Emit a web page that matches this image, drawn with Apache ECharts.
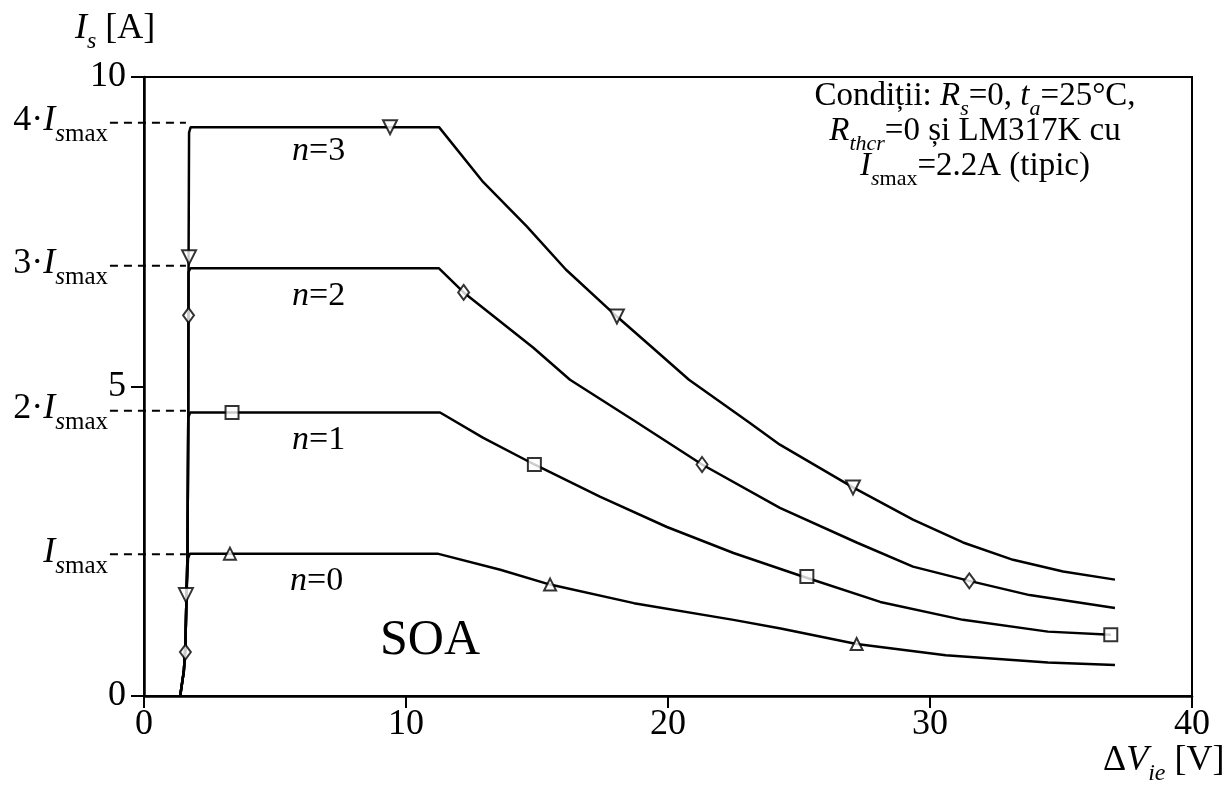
<!DOCTYPE html>
<html>
<head>
<meta charset="utf-8">
<script src="https://cdn.jsdelivr.net/npm/echarts@6/dist/echarts.min.js"></script>
<style>
  html, body { margin: 0; padding: 0; background: #fff; }
  #chart { width: 1232px; height: 791px; }
</style>
</head>
<body>
<div id="chart"></div>
<script>
// curves: [ΔVie, Is]
const curveN0 = [[1.38,0],[1.52,0.4],[1.58,0.8],[1.62,1.6],[1.68,2.22],[1.75,2.30],[11.2,2.30],[13.6,2.04],[15.5,1.80],[18.7,1.50],[22.5,1.23],[24.3,1.09],[27.2,0.84],[30.6,0.66],[34.5,0.54],[37.06,0.50]];
const curveN1 = [[1.38,0],[1.52,0.4],[1.58,0.8],[1.62,1.6],[1.66,2.3],[1.69,4.5],[1.76,4.58],[11.3,4.58],[12.95,4.17],[14.9,3.74],[17.4,3.22],[19.96,2.73],[22.5,2.31],[25.0,1.95],[28.1,1.52],[31.26,1.23],[34.5,1.04],[36.9,0.99]];
const curveN2 = [[1.38,0],[1.52,0.4],[1.58,0.8],[1.62,1.6],[1.66,2.3],[1.69,4.6],[1.70,6.85],[1.77,6.91],[11.26,6.91],[12.2,6.52],[14.85,5.63],[16.26,5.11],[18.7,4.45],[21.3,3.74],[24.27,3.04],[27.2,2.48],[29.35,2.09],[31.5,1.86],[33.8,1.63],[37.06,1.42]];
const curveN3 = [[1.38,0],[1.52,0.4],[1.58,0.8],[1.62,1.6],[1.66,2.3],[1.69,4.6],[1.70,6.9],[1.72,9.1],[1.78,9.19],[11.26,9.19],[12.95,8.30],[14.6,7.59],[16.1,6.89],[18.05,6.13],[19.4,5.63],[20.8,5.11],[23.1,4.42],[24.27,4.06],[27.06,3.37],[29.35,2.85],[31.26,2.48],[33.17,2.20],[35.08,2.01],[37.06,1.88]];

// marker positions on each curve
const marksN0 = [[3.28,2.30],[15.5,1.80],[27.2,0.84]];
const marksN1 = [[3.36,4.58],[14.9,3.74],[25.3,1.93],[36.9,0.99]];
const marksN2 = [[1.58,0.71],[1.70,6.15],[12.2,6.52],[21.3,3.74],[31.5,1.86]];
const marksN3 = [[1.60,1.63],[1.72,7.09],[9.39,9.19],[18.05,6.13],[27.06,3.37]];

// k·Ismax reference levels (dashed), they start left of the axis
const refLevels = [2.29, 4.61, 6.95, 9.26];
const refLabels = ['', '2·', '3·', '4·'];
const refStartX = -1.3;
const refEndX = 1.6;
const refAxisMin = -1.5;

const xTicks = [0, 10, 20, 30, 40];
const yTicks = [0, 5, 10];

const serif = '"Liberation Serif", "DejaVu Serif", serif';

// rich styles: r = roman, i = italic, s = italic subscript, m = roman subscript
function richSet(fs, sub, drop) {
  const ls = Math.round(0.54 * (fs + sub) + drop + 0.3375 * (fs - sub));
  return {
    r: {fontSize: fs, fontFamily: serif, lineHeight: fs, verticalAlign: 'top', fill: '#000'},
    i: {fontSize: fs, fontFamily: serif, fontStyle: 'italic', lineHeight: fs, verticalAlign: 'top', fill: '#000'},
    s: {fontSize: sub, fontFamily: serif, fontStyle: 'italic', lineHeight: ls, verticalAlign: 'bottom', fill: '#000'},
    m: {fontSize: sub, fontFamily: serif, lineHeight: ls, verticalAlign: 'bottom', fill: '#000'}
  };
}

// cy = vertical centre of the main (non subscript) letters
function txt(x, cy, text, fs, sub, align) {
  return {
    type: 'text', x: x, y: Math.round(cy - 0.54 * fs), z: 100,
    style: {
      text: text, align: align || 'left', verticalAlign: 'top',
      rich: richSet(fs, sub || Math.round(fs * 0.68), 7),
      fill: '#000', font: fs + 'px ' + serif
    }
  };
}

const chart = echarts.init(document.getElementById('chart'));

const lineStyle = {color: '#000', width: 2.5};
function curve(data) {
  return {type: 'line', data: data, symbol: 'none', lineStyle: lineStyle, z: 3, animation: false};
}
function marks(data, symbol, size, rotate) {
  return {
    type: 'scatter', data: data, symbol: symbol, symbolSize: size, symbolRotate: rotate || 0,
    itemStyle: {color: '#fff', borderColor: '#000', borderWidth: 2}, z: 5, animation: false
  };
}

const refSeries = refLevels.map(function (lv) {
  return {
    type: 'line', xAxisIndex: 1, yAxisIndex: 1,
    data: [[refStartX, lv], [refEndX, lv]], symbol: 'none',
    lineStyle: {color: '#000', width: 2, type: [8, 6]}, z: 2, animation: false
  };
});

// labels of the dashed levels
const refTexts = refLevels.map(function (lv, k) {
  const py = 696 - lv * 61.9;
  const t = (refLabels[k] ? '{r|' + refLabels[k] + '}' : '') + '{i|I}{s|s}{m|max}';
  return txt(108, py, t, 36, 25, 'right');
});

const pxPerUnit = 1048 / 40;

chart.setOption({
  animation: false,
  backgroundColor: '#fff',
  grid: [
    {left: 144, right: 40, top: 77, bottom: 95, show: true, borderColor: '#000', borderWidth: 2, backgroundColor: 'transparent'},
    {left: 144 + refAxisMin * pxPerUnit, right: 40, top: 77, bottom: 95}
  ],
  xAxis: [{
    type: 'value', min: xTicks[0], max: xTicks[xTicks.length - 1], interval: 10,
    axisLine: {lineStyle: {color: '#000', width: 2.5}},
    axisTick: {show: true, inside: false, length: 12, lineStyle: {color: '#000', width: 2}},
    axisLabel: {color: '#000', fontSize: 36, fontFamily: serif, margin: 11},
    splitLine: {show: false}
  }, {
    type: 'value', gridIndex: 1, min: refAxisMin, max: xTicks[xTicks.length - 1], show: false
  }],
  yAxis: [{
    type: 'value', min: yTicks[0], max: yTicks[yTicks.length - 1], interval: 5,
    axisLine: {show: true, lineStyle: {color: '#000', width: 2.5}},
    axisTick: {show: true, inside: false, length: 13, lineStyle: {color: '#000', width: 2}},
    axisLabel: {color: '#000', fontSize: 36, fontFamily: serif, margin: 18},
    splitLine: {show: false}
  }, {
    type: 'value', gridIndex: 1, min: yTicks[0], max: yTicks[yTicks.length - 1], show: false
  }],
  graphic: [
    txt(75, 30, '{i|I}{s|s}{r| [A]}', 36, 24),
    txt(1103, 762, '{r|Δ}{i|V}{s|ie}{r| [V]}', 36, 24),
    txt(975, 98, '{r|Condiții: }{i|R}{s|s}{r|=0, }{i|t}{s|a}{r|=25°C,}', 33, 22, 'center'),
    txt(975, 133, '{i|R}{s|thcr}{r|=0 și LM317K cu}', 33, 22, 'center'),
    txt(975, 168, '{i|I}{s|s}{m|max}{r|=2.2A (tipic)}', 33, 22, 'center'),
    txt(292, 152, '{i|n}{r|=3}', 34),
    txt(292, 297, '{i|n}{r|=2}', 34),
    txt(292, 441, '{i|n}{r|=1}', 34),
    txt(290, 582, '{i|n}{r|=0}', 34),
    txt(380, 643, '{r|SOA}', 50)
  ].concat(refTexts),
  series: refSeries.concat([
    curve(curveN0), curve(curveN1), curve(curveN2), curve(curveN3),
    marks(marksN0, 'triangle', 12),
    marks(marksN1, 'rect', 13),
    marks(marksN2, 'diamond', [11, 15]),
    marks(marksN3, 'triangle', 14, 180)
  ])
});
</script>
</body>
</html>
